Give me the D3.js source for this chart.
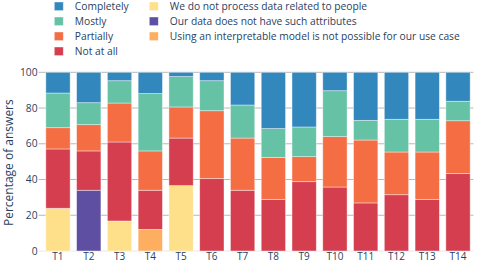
<!DOCTYPE html>
<html>
<head>
<meta charset="utf-8">
<script src="https://cdn.jsdelivr.net/npm/d3@7"></script>
<style>
  html, body { margin: 0; padding: 0; background: #fff; }
  svg { display: block; font-family: "Open Sans", sans-serif; }
</style>
</head>
<body>
<svg id="chart" width="491" height="263"></svg>
<script>
const categories = ["T1","T2","T3","T4","T5","T6","T7","T8","T9","T10","T11","T12","T13","T14"];
const noPeopleData   = [23.9, 0, 16.8, 0, 36.6, 0, 0, 0, 0, 0, 0, 0, 0, 0];
const noAttributes   = [0, 34.0, 0, 0, 0, 0, 0, 0, 0, 0, 0, 0, 0, 0];
const notPossible    = [0, 0, 0, 12.1, 0, 0, 0, 0, 0, 0, 0, 0, 0, 0];
const notAtAll       = [33.2, 22.0, 44.2, 21.9, 26.6, 40.5, 34.0, 28.9, 38.8, 35.8, 26.9, 31.5, 28.9, 43.3];
const partially      = [11.9, 14.7, 21.8, 22.0, 17.4, 38.0, 29.2, 23.5, 14.0, 28.2, 35.2, 23.9, 26.5, 29.6];
const mostly         = [19.4, 12.3, 12.5, 32.1, 17.0, 16.8, 18.5, 16.1, 16.6, 25.7, 11.0, 18.3, 18.3, 10.9];
const completely     = [11.6, 17.0, 4.7, 11.9, 2.4, 4.7, 18.3, 31.5, 30.6, 10.3, 26.9, 26.3, 26.3, 16.2];
const yTicks = [0, 20, 40, 60, 80, 100];
const yTitle = "Percentage of answers";

// stacking order bottom -> top
const series = [
  { key: "noPeople", name: "We do not process data related to people", values: noPeopleData, color: "#fee08b" },
  { key: "noAttr", name: "Our data does not have such attributes", values: noAttributes, color: "#5e4fa2" },
  { key: "notPossible", name: "Using an interpretable model is not possible for our use case", values: notPossible, color: "#fdae61" },
  { key: "notAtAll", name: "Not at all", values: notAtAll, color: "#d53e4f" },
  { key: "partially", name: "Partially", values: partially, color: "#f46d43" },
  { key: "mostly", name: "Mostly", values: mostly, color: "#66c2a5" },
  { key: "completely", name: "Completely", values: completely, color: "#3288bd" }
];

const svg = d3.select("#chart");
const margin = { left: 42.6, right: 491 - 473.4, top: 72.3, bottom: 263 - 251 };
const W = 491, H = 263;

const x = d3.scaleBand().domain(categories).range([margin.left, W - margin.right]).paddingInner(0.21).paddingOuter(0.105);
const y = d3.scaleLinear().domain([0, 100]).range([H - margin.bottom, margin.top]);

const table = categories.map((c, i) => {
  const row = { cat: c };
  series.forEach(s => row[s.key] = s.values[i]);
  return row;
});
const stack = d3.stack().keys(series.map(s => s.key))(table);

// gridlines
const textColor = "#2a3f5f";
svg.append("g").selectAll("line").data(yTicks.filter(t => t > 0)).join("line")
  .attr("x1", margin.left - 4).attr("x2", W - margin.right)
  .attr("y1", d => y(d)).attr("y2", d => y(d))
  .attr("stroke", "#b8b8b8").attr("stroke-width", 1);
// zero line
svg.append("line")
  .attr("x1", margin.left - 4).attr("x2", W - margin.right)
  .attr("y1", y(0)).attr("y2", y(0))
  .attr("stroke", "#e5e8f2").attr("stroke-width", 1);

// bars
const gBars = svg.append("g");
stack.forEach((layer, li) => {
  gBars.append("g").attr("fill", series[li].color)
    .selectAll("rect").data(layer.filter(d => d[1] - d[0] > 0)).join("rect")
    .attr("x", d => x(d.data.cat))
    .attr("width", x.bandwidth())
    .attr("y", d => y(d[1]))
    .attr("height", d => y(d[0]) - y(d[1]))
    .attr("stroke", "rgba(255,255,255,0.5)")
    .attr("stroke-width", 0.8);
});

// y axis labels
svg.append("g").selectAll("text").data(yTicks).join("text")
  .attr("x", margin.left - 5).attr("y", d => y(d))
  .attr("dy", "0.35em").attr("text-anchor", "end")
  .attr("font-size", 10.25).attr("fill", textColor)
  .text(d => d);

// x axis labels
svg.append("g").selectAll("text").data(categories).join("text")
  .attr("x", d => x(d) + x.bandwidth() / 2).attr("y", 256.8)
  .attr("dy", "0.35em").attr("text-anchor", "middle")
  .attr("font-size", 10).attr("fill", textColor)
  .text(d => d);

// y title
svg.append("text")
  .attr("transform", `translate(13, ${(y(0) + y(100)) / 2 + 1}) rotate(-90)`)
  .attr("text-anchor", "middle")
  .attr("font-size", 12).attr("fill", textColor)
  .text(yTitle);

// legend
const legendCols = [
  { x: 54.3, items: ["completely", "mostly", "partially", "notAtAll"] },
  { x: 149.3, items: ["noPeople", "noAttr", "notPossible"] }
];
const gLeg = svg.append("g");
legendCols.forEach(col => {
  col.items.forEach((k, r) => {
    const s = series.find(v => v.key === k);
    const cy = 6.3 + r * 15;
    gLeg.append("rect").attr("x", col.x).attr("y", cy - 4.3).attr("width", 9).attr("height", 8.6)
      .attr("fill", s.color).attr("stroke", "rgba(255,255,255,0.5)").attr("stroke-width", 0.8);
    gLeg.append("text").attr("x", col.x + 20.5).attr("y", cy).attr("dy", "0.35em")
      .attr("font-size", 10.25).attr("fill", textColor).text(s.name);
  });
});
</script>
</body>
</html>
